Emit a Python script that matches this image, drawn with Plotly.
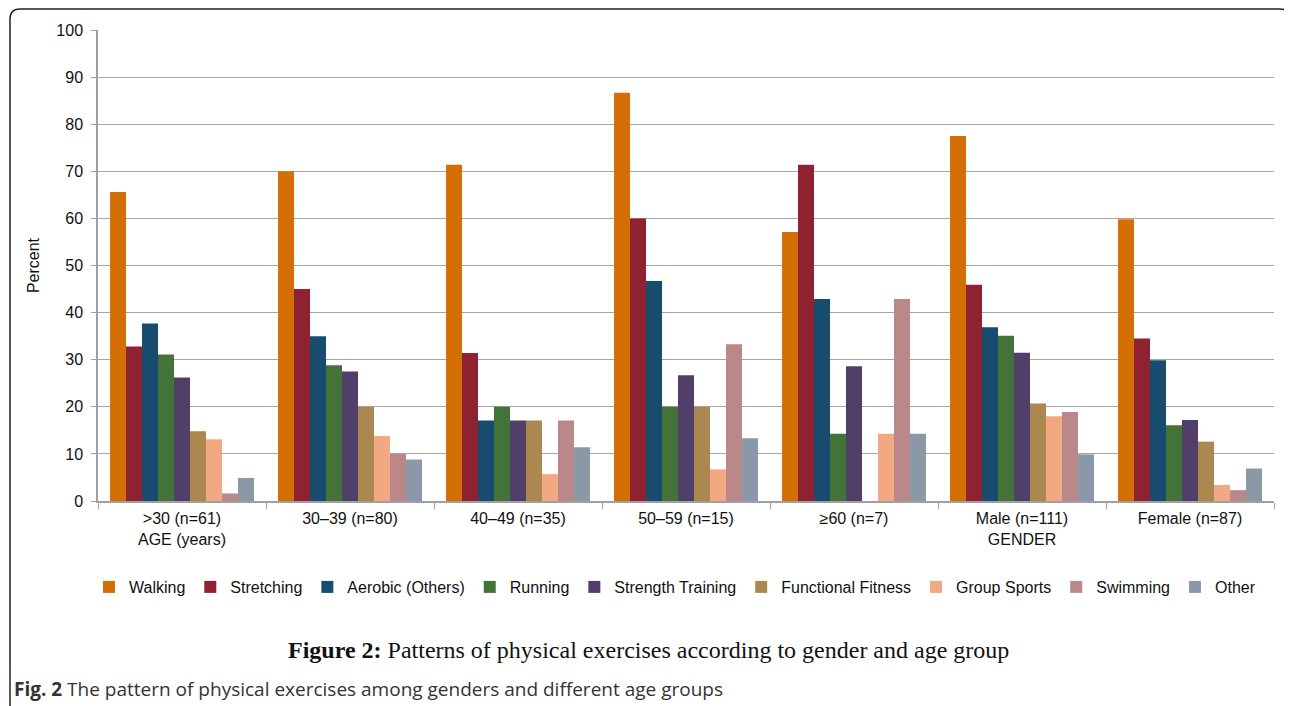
import plotly.graph_objects as go

categories = [">30 (n=61)<br>AGE (years)", "30–39 (n=80)", "40–49 (n=35)", "50–59 (n=15)",
              "≥60 (n=7)", "Male (n=111)<br>GENDER", "Female (n=87)"]

series_names = ["Walking", "Stretching", "Aerobic (Others)", "Running", "Strength Training",
                "Functional Fitness", "Group Sports", "Swimming", "Other"]

walking = [65.6, 70.0, 71.4, 86.7, 57.1, 77.5, 59.8]
stretching = [32.8, 45.0, 31.4, 60.0, 71.4, 45.9, 34.5]
aerobic = [37.7, 35.0, 17.1, 46.7, 42.9, 36.9, 29.9]
running = [31.1, 28.8, 20.0, 20.0, 14.3, 35.1, 16.1]
strength = [26.2, 27.5, 17.1, 26.7, 28.6, 31.5, 17.2]
functional = [14.8, 20.0, 17.1, 20.0, 0.0, 20.7, 12.6]
group_sports = [13.1, 13.8, 5.7, 6.7, 14.3, 18.0, 3.4]
swimming = [1.6, 10.0, 17.1, 33.3, 42.9, 18.9, 2.3]
other = [4.9, 8.8, 11.4, 13.3, 14.3, 9.9, 6.9]

series_values = [walking, stretching, aerobic, running, strength, functional,
                 group_sports, swimming, other]

colors = ["#D46F06", "#8E2230", "#184C6E", "#44733A", "#523F69",
          "#AB884F", "#F2A883", "#BB8889", "#8A98A8"]

y_ticks = list(range(0, 101, 10))

# The page body adds an 8px offset; size the figure to fill the rest of the window.
OFF = 8
W, H = 1292 - OFF, 706 - OFF
L, T = 98 - OFF, 30 - OFF
R = W - (1274 - OFF)
B = H - (501 - OFF)
PW, PH = W - L - R, H - T - B


def px(x):
    """screen x -> paper x"""
    return (x - OFF - L) / PW


def py(y):
    """screen y -> paper y"""
    return (H - B - (y - OFF)) / PH


fig = go.Figure()
for name, vals, col in zip(series_names, series_values, colors):
    fig.add_trace(go.Bar(name=name, x=categories, y=vals, marker_color=col,
                         marker_line_width=0))

frame_path = (f"M {px(10)},{py(720)} L {px(10)},{py(19)} Q {px(10)},{py(9)} {px(20)},{py(9)} "
              f"L {px(1280)},{py(9)} Q {px(1290)},{py(9)} {px(1290)},{py(19)} L {px(1290)},{py(720)}")

fig.update_layout(
    width=W, height=H,
    margin=dict(l=L, r=R, t=T, b=B),
    paper_bgcolor="white", plot_bgcolor="white",
    barmode="group", bargap=0.143, bargroupgap=0,
    font=dict(family="Liberation Sans, Arial, sans-serif", size=16, color="#111"),
    xaxis=dict(showgrid=False, showline=True, linecolor="#A0A0A0", linewidth=1.5,
               ticks="outside", ticklen=6, tickcolor="#A0A0A0", tickson="boundaries",
               ticklabelstandoff=2, tickfont=dict(size=16, color="#111")),
    yaxis=dict(range=[0, 100], tickvals=y_ticks, showgrid=True, gridcolor="#A6A6A6",
               gridwidth=1, showline=True, linecolor="#A0A0A0", linewidth=1.5,
               ticks="outside", ticklen=5, tickcolor="#A0A0A0", ticklabelstandoff=5,
               tickfont=dict(size=16, color="#111"), zeroline=False,
               title=dict(text="Percent", font=dict(size=16, color="#111"), standoff=13)),
    legend=dict(orientation="h", x=px(89), y=py(587), xanchor="left", yanchor="middle",
                font=dict(size=16, color="#111"), traceorder="normal",
                itemwidth=30, bgcolor="rgba(0,0,0,0)"),
    shapes=[dict(type="path", xref="paper", yref="paper", path=frame_path,
                 line=dict(color="#222", width=1.5))],
    annotations=[
        dict(text="<b>Figure 2:</b> Patterns of physical exercises according to gender and age group",
             xref="paper", yref="paper", x=px(648), y=py(650), xanchor="center", yanchor="middle",
             showarrow=False, font=dict(family="Liberation Serif, Times New Roman, serif",
                                        size=24, color="#111")),
        dict(text="<b>Fig. 2</b> The pattern of physical exercises among genders and different age groups",
             xref="paper", yref="paper", x=px(12), y=py(689), xanchor="left", yanchor="middle",
             showarrow=False, font=dict(family="Open Sans, Noto Sans, sans-serif",
                                        size=19, color="#333")),
    ],
)

fig.write_html("out.html")
